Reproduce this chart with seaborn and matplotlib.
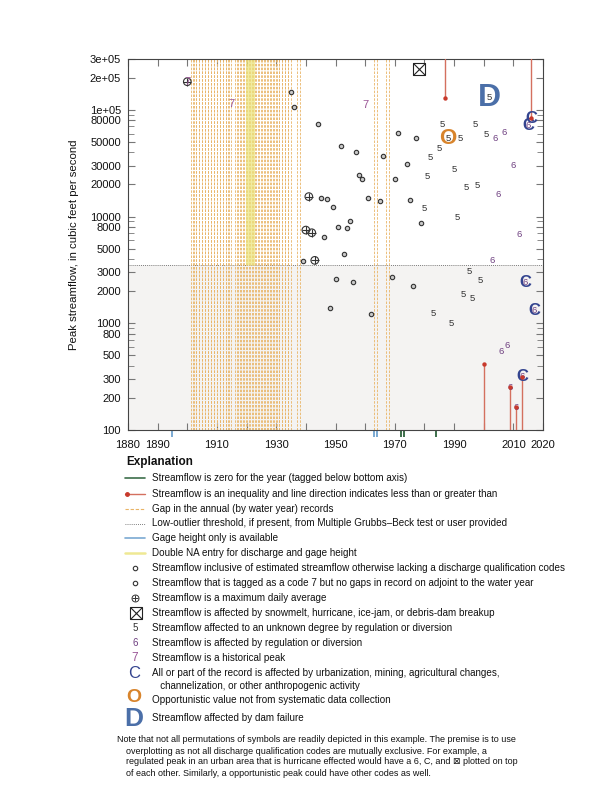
import matplotlib
matplotlib.use("Agg")
import matplotlib.pyplot as plt
import seaborn as sns

# peak streamflow inclusive of estimated values (small circles)
est_years = [1935, 1936, 1939, 1944, 1945, 1946, 1947, 1948, 1949, 1950, 1951,
             1952, 1953, 1954, 1955, 1956, 1957, 1958, 1959, 1961, 1962, 1965,
             1966, 1969, 1970, 1971, 1974, 1975, 1976, 1977, 1979]
est_flows = [148000, 107000, 3810, 74300, 15000, 6400, 14500, 1390, 12200, 2620, 7950,
             45400, 4460, 7870, 9030, 2440, 40600, 24400, 22500, 15000, 1220, 13900,
             37000, 2700, 22500, 61200, 31300, 14400, 2220, 54500, 8650]

# maximum daily average
maxday_years = [1900, 1940, 1941, 1942, 1943]
maxday_flows = [183800, 7480, 15400, 7060, 3890]

# snowmelt / hurricane / ice-jam
snow_years = [1978]
snow_flows = [241700]

# code 5
code5_years = [1980, 1981, 1982, 1983, 1985, 1986, 1988, 1989, 1990, 1991, 1992,
               1993, 1994, 1995, 1996, 1997, 1998, 1999, 2001, 2002]
code5_flows = [11800, 23700, 35600, 1240, 43300, 72700, 53700, 1000, 27700, 9840, 53700,
               1850, 18900, 3050, 1690, 72700, 19600, 2500, 58600, 130000]

# code 6
code6_years = [2003, 2004, 2005, 2006, 2007, 2008, 2009, 2010, 2011, 2012, 2013,
               2014, 2015, 2017]
code6_flows = [3890, 54500, 16000, 550, 61700, 622, 251, 30000, 164, 6870, 316,
               2420, 72100, 1320]

# code 7 historical peaks
code7_years = [1900, 1915, 1960]
code7_flows = [183800, 113000, 111000]

# code C, O, D
codeC_years = [2013, 2014, 2015, 2016, 2017]
codeC_flows = [316, 2420, 72100, 83400, 1320]
codeO_years = [1988]
codeO_flows = [53700]
codeD_years = [2002]
codeD_flows = [130000]

# inequalities: '>' greater than, '<' less than
ineq_years = [1987, 2000, 2009, 2011, 2013, 2016]
ineq_flows = [130000, 416, 251, 164, 316, 83400]
ineq_dir = ['>', '<', '<', '<', '<', '>']

gap_years = list(range(1901, 1915)) + list(range(1916, 1935)) + [1937, 1963, 1967]
double_na_years = [1921]
zero_years = [1972, 1973, 1984]
gage_years = [1895, 1963, 1964]
low_outlier = 3500

xticks = list(range(1880, 2021, 10))
xtick_labels = ['1880', '1890', '', '1910', '', '1930', '', '1950', '', '1970',
                '', '1990', '', '2010', '2020']
ytick_vals = [100, 200, 300, 500, 800, 1000, 2000, 3000, 5000, 8000, 10000,
              20000, 30000, 50000, 80000, 100000, 200000, 300000]
ytick_labels = ['100', '200', '300', '500', '800', '1000', '2000', '3000', '5000',
                '8000', '10000', '20000', '30000', '50000', '80000', '1e+05',
                '2e+05', '3e+05']
yminor_vals = [400, 600, 700, 900, 4000, 6000, 7000, 9000, 40000, 60000, 70000, 90000]

sns.set_style("ticks")
plt.rcParams['font.family'] = ['Liberation Sans', 'DejaVu Sans']

RED_LINE = '#d4705f'
RED_DOT = '#c8392c'
ORANGE = '#e9b466'
PURPLE6 = '#6e3f80'
PURPLE7 = '#9a5596'
CBLUE = '#34448f'
DBLUE = '#4b6fa8'
OCOL = '#d8842c'
YELLOW = '#ebe37a'

fig = plt.figure(figsize=(6.12, 7.92), dpi=100)
ax = fig.add_axes([128 / 612, 1 - 430 / 792, 415 / 612, 371 / 792])
ax.set_yscale('log')
ax.set_xlim(1880, 2020)
ax.set_ylim(100, 300000)

# shaded low-outlier region and threshold
ax.axhspan(100, low_outlier, color='#f4f3f2', zorder=0, lw=0)
ax.axhline(low_outlier, color='#555555', ls=(0, (1, 1.5)), lw=0.6, zorder=1)

# gap lines
for yr in gap_years:
    for off in (0.1, 0.9):
        ax.axvline(yr + off, color=ORANGE, ls=(0, (3, 1.6)), lw=0.6, zorder=1.5)

# double NA band
ax.vlines(double_na_years, low_outlier, 300000, color=YELLOW, lw=6.5, alpha=0.7, zorder=2)

# ticks below axis
tr = ax.get_xaxis_transform()
ax.vlines(gage_years, -0.02, 0, transform=tr, color='#7aa9d2', lw=1.4, clip_on=False)
ax.vlines(zero_years, -0.02, 0, transform=tr, color='#3c6e4a', lw=1.4, clip_on=False)

# inequality lines
for yr, fl, d in zip(ineq_years, ineq_flows, ineq_dir):
    end = 300000 if d == '>' else 100
    ax.plot([yr, yr], [fl, end], color=RED_LINE, lw=1.0, zorder=3)
sns.scatterplot(x=ineq_years, y=ineq_flows, ax=ax, s=10, color=RED_DOT,
                edgecolor=RED_DOT, linewidth=0, zorder=6)

# circles
sns.scatterplot(x=est_years, y=est_flows, ax=ax, s=10, marker='o',
                facecolor='#c8c8c8', edgecolor='#333333', linewidth=0.8, zorder=4)
ax.scatter(maxday_years, maxday_flows, s=30, marker='o', facecolor='none',
           edgecolor='#333333', linewidth=0.8, zorder=4)
ax.scatter(maxday_years, maxday_flows, s=30, marker='+', color='#333333',
           linewidth=0.8, zorder=4)
ax.scatter(snow_years, snow_flows, s=64, marker='s', facecolor='white',
           edgecolor='#222222', linewidth=0.8, zorder=4)
ax.scatter(snow_years, snow_flows, s=64, marker='x', color='#222222',
           linewidth=0.8, zorder=4)

# letter codes
for yr, fl in zip(codeD_years, codeD_flows):
    ax.text(yr, fl, 'D', color=DBLUE, fontsize=23, fontweight='bold',
            ha='center', va='center', zorder=3)
for yr, fl in zip(codeO_years, codeO_flows):
    ax.text(yr, fl, 'O', color=OCOL, fontsize=16, fontweight='bold',
            ha='center', va='center', zorder=3)
for yr, fl in zip(codeC_years, codeC_flows):
    ax.text(yr, fl, 'C', color=CBLUE, fontsize=12, fontweight='bold',
            ha='center', va='center', zorder=5)
for yr, fl in zip(code5_years, code5_flows):
    ax.text(yr, fl, '5', color='#333333', fontsize=6.8, ha='center', va='center', zorder=5)
for yr, fl in zip(code6_years, code6_flows):
    ax.text(yr, fl, '6', color=PURPLE6, fontsize=6.8, ha='center', va='center', zorder=5)
for yr, fl in zip(code7_years, code7_flows):
    ax.text(yr, fl, '7', color=PURPLE7, fontsize=8, ha='center', va='center', zorder=5)

# axes styling
ax.set_xticks(xticks)
ax.set_xticklabels(xtick_labels)
ax.set_yticks(ytick_vals)
ax.set_yticklabels(ytick_labels)
ax.set_yticks(yminor_vals, minor=True)
ax.yaxis.set_minor_formatter(plt.NullFormatter())
ax.tick_params(which='both', direction='in', top=True, right=True,
               color='#777777', labelsize=8, labelcolor='#111111')
ax.tick_params(axis='x', length=5, pad=7)
ax.tick_params(axis='y', which='major', length=5, pad=5)
ax.tick_params(axis='y', which='minor', length=4)
for sp in ax.spines.values():
    sp.set_color('#444444')
    sp.set_linewidth(0.8)
ax.set_ylabel('Peak streamflow, in cubic feet per second', fontsize=8.2, color='#111111')
ax.yaxis.set_label_coords(-0.118, 0.5)

# explanation, drawn in page pixel coordinates
lax = fig.add_axes([0, 0, 1, 1])
lax.set_xlim(0, 612)
lax.set_ylim(792, 0)
lax.axis('off')

TX = 152
FS = 7.1
lax.text(126, 462, 'Explanation', fontsize=8.5, fontweight='bold', va='center', color='#111111')

rows = [
    (478, 'Streamflow is zero for the year (tagged below bottom axis)'),
    (494, 'Streamflow is an inequality and line direction indicates less than or greater than'),
    (509, 'Gap in the annual (by water year) records'),
    (523.5, 'Low-outlier threshold, if present, from Multiple Grubbs\u2013Beck test or user provided'),
    (538, 'Gage height only is available'),
    (553, 'Double NA entry for discharge and gage height'),
    (568, 'Streamflow inclusive of estimated streamflow otherwise lacking a discharge qualification codes'),
    (583, 'Streamflow that is tagged as a code 7 but no gaps in record on adjoint to the water year'),
    (598, 'Streamflow is a maximum daily average'),
    (613, 'Streamflow is affected by snowmelt, hurricane, ice-jam, or debris-dam breakup'),
    (628, 'Streamflow affected to an unknown degree by regulation or diversion'),
    (643, 'Streamflow is affected by regulation or diversion'),
    (658, 'Streamflow is a historical peak'),
    (673, 'All or part of the record is affected by urbanization, mining, agricultural changes,'),
    (686, '   channelization, or other anthropogenic activity'),
    (700, 'Opportunistic value not from systematic data collection'),
    (718, 'Streamflow affected by dam failure'),
]
for y, t in rows:
    lax.text(TX, y, t, fontsize=FS, va='center', color='#111111')

lx = [125, 145]
lax.plot(lx, [478, 478], color='#3c6e4a', lw=1.2)
lax.plot(lx, [494, 494], color=RED_LINE, lw=1.0)
lax.plot([127], [494], 'o', color=RED_DOT, ms=2.5)
lax.plot(lx, [509, 509], color=ORANGE, lw=0.8, ls=(0, (3, 1.6)))
lax.plot(lx, [523.5, 523.5], color='#555555', lw=0.6, ls=(0, (1, 1.5)))
lax.plot(lx, [538, 538], color='#7aa9d2', lw=1.2)
lax.plot(lx, [553, 553], color=YELLOW, lw=1.8, alpha=0.8)
lax.plot([135], [568], 'o', ms=3.2, mfc='white', mec='#333333', mew=0.8)
lax.plot([135], [583], 'o', ms=3.2, mfc='white', mec='#333333', mew=0.8)
lax.plot([135], [598], 'o', ms=5, mfc='none', mec='#333333', mew=0.7)
lax.plot([135], [598], '+', ms=5, color='#333333', mew=0.7)
lax.plot([136], [613], 's', ms=8, mfc='white', mec='#222222', mew=0.8)
lax.plot([136], [613], 'x', ms=8, color='#222222', mew=0.8)
lax.text(135, 628, '5', fontsize=7, color='#333333', ha='center', va='center')
lax.text(135, 643, '6', fontsize=7, color=PURPLE6, ha='center', va='center')
lax.text(135, 658, '7', fontsize=8.5, color=PURPLE7, ha='center', va='center')
lax.text(134, 673, 'C', fontsize=12, color=CBLUE, ha='center', va='center')
lax.text(134, 698, 'O', fontsize=14, color=OCOL, fontweight='bold', ha='center', va='center')
lax.text(134, 719, 'D', fontsize=19, color=DBLUE, fontweight='bold', ha='center', va='center')

notes = [
    (117, 740, 'Note that not all permutations of symbols are readily depicted in this example. The premise is to use'),
    (126, 751, 'overplotting as not all discharge qualification codes are mutually exclusive. For example, a'),
    (126, 762, 'regulated peak in an urban area that is hurricane effected would have a 6, C, and \u22a0 plotted on top'),
    (126, 773, 'of each other. Similarly, a opportunistic peak could have other codes as well.'),
]
for x, y, t in notes:
    lax.text(x, y, t, fontsize=6.45, va='center', color='#111111')

fig.savefig('out.png', dpi=100)
